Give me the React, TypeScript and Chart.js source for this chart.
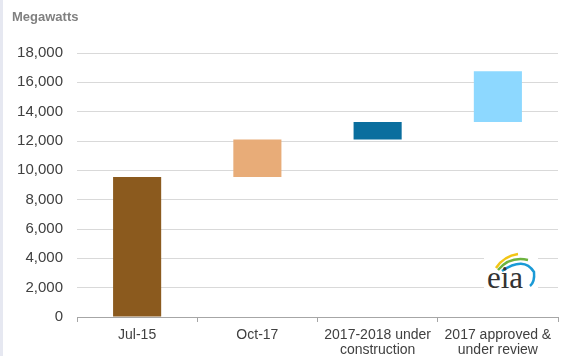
import React, { useEffect, useRef } from "react";
import { Chart, registerables } from "chart.js";

Chart.register(...registerables);

const categories: (string | string[])[] = [
  "Jul-15",
  "Oct-17",
  ["2017-2018 under", "construction"],
  ["2017 approved &", "under review"],
];
const barStarts = [0, 9550, 12100, 13300];
const barEnds = [9550, 12100, 13300, 16750];
const barColors = ["#8b5a1e", "#e8ac78", "#0a6e9e", "#8dd8ff"];
const yMax = 18000;
const yStep = 2000;
const unitLabel = "Megawatts";

export default function App() {
  const canvasRef = useRef<HTMLCanvasElement | null>(null);

  useEffect(() => {
    if (!canvasRef.current) return;
    const chart = new Chart(canvasRef.current, {
      type: "bar",
      data: {
        labels: categories,
        datasets: [
          {
            data: barStarts.map((s, i) => [s, barEnds[i]]),
            backgroundColor: barColors,
            borderWidth: 0,
            barPercentage: 0.4,
            categoryPercentage: 1,
          },
        ],
      },
      options: {
        animation: false,
        responsive: false,
        maintainAspectRatio: false,
        layout: { padding: { top: 53, right: 5, left: 0, bottom: 0 } },
        plugins: { legend: { display: false }, tooltip: { enabled: false } },
        scales: {
          x: {
            offset: true,
            grid: {
              offset: true,
              drawOnChartArea: false,
              drawTicks: true,
              tickLength: 5,
              color: "#a6a6a6",
            },
            border: { display: true, color: "#a6a6a6", width: 1 },
            ticks: {
              color: "#404040",
              font: { family: "'Liberation Sans', Arial, sans-serif", size: 14, lineHeight: 1.1 },
              padding: 5,
              maxRotation: 0,
              autoSkip: false,
            },
            afterFit: (scale: any) => {
              scale.height = 39;
            },
          },
          y: {
            min: 0,
            max: yMax,
            ticks: {
              stepSize: yStep,
              color: "#404040",
              padding: 14,
              font: { family: "'Liberation Sans', Arial, sans-serif", size: 15 },
              callback: (v: any) => Number(v).toLocaleString("en-US"),
            },
            grid: { color: "#d9d9d9", lineWidth: 1, drawTicks: false },
            border: { display: false },
            afterFit: (scale: any) => {
              scale.width = 77;
            },
          },
        },
      },
    });
    return () => chart.destroy();
  }, []);

  return (
    <div
      style={{
        position: "fixed",
        left: 0,
        top: 0,
        width: 563,
        height: 356,
        background: "#ffffff",
        overflow: "hidden",
      }}
    >
      <div
        style={{
          position: "absolute",
          left: 0,
          top: 0,
          width: 3,
          height: 356,
          background: "#e6e8f1",
        }}
      />
      <canvas
        ref={canvasRef}
        width={563}
        height={356}
        style={{ position: "absolute", left: 0, top: 0, width: 563, height: 356 }}
      />
      <div
        style={{
          position: "absolute",
          left: 12,
          top: 9,
          fontFamily: "'Liberation Sans', Arial, sans-serif",
          fontWeight: "bold",
          fontSize: 13,
          color: "#808080",
          lineHeight: "16px",
        }}
      >
        {unitLabel}
      </div>
      <div
        style={{
          position: "absolute",
          left: 484,
          top: 250,
          width: 54,
          height: 44,
          background: "#ffffff",
        }}
      />
      <svg
        width={54}
        height={44}
        style={{ position: "absolute", left: 484, top: 250 }}
        viewBox="0 0 54 44"
      >
        <path d="M12 18 Q20 6 34 4" stroke="#f2c515" strokeWidth={2.5} fill="none" />
        <path d="M14 20 Q26 6 44 10" stroke="#6db33f" strokeWidth={2.5} fill="none" />
        <path d="M18 21 Q40 6 50 22 Q51 32 46 36" stroke="#1a9ad6" strokeWidth={2.5} fill="none" />
        <text
          x={3}
          y={38}
          fontFamily="'Liberation Serif', 'DejaVu Serif', serif"
          fontSize={31}
          fill="#333333"
        >
          eia
        </text>
      </svg>
    </div>
  );
}
